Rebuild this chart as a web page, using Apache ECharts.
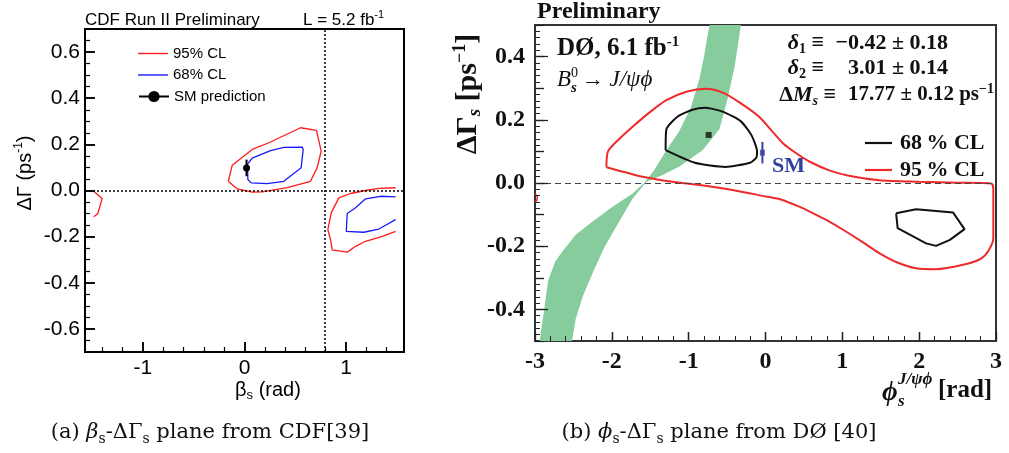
<!DOCTYPE html>
<html><head><meta charset="utf-8">
<script src="https://cdn.jsdelivr.net/npm/echarts@6/dist/echarts.min.js"></script>
<style>html,body{margin:0;padding:0;background:#fff}#c{width:1009px;height:453px}</style>
</head><body><div id="c"></div>
<script>
// ---------- Left panel (CDF) data: beta_s [rad] vs DeltaGamma [ps^-1] ----------
const cdf95Main = [[-0.16,0.040],[-0.121,0.109],[0.076,0.178],[0.240,0.207],[0.552,0.272],[0.709,0.261],[0.755,0.171],[0.716,0.099],[0.650,0.040],[0.420,0.012],[0.174,-0.006],[0.076,-0.007],[-0.072,0.007],[-0.16,0.040]];
const cdf68Main = [[0.03,0.115],[0.076,0.140],[0.256,0.173],[0.387,0.187],[0.568,0.188],[0.578,0.178],[0.558,0.099],[0.387,0.040],[0.223,0.030],[0.066,0.033],[0.033,0.048],[0.03,0.115]];
const cdf95Right = [[1.488,0.012],[1.323,0.009],[1.192,0.0],[1.044,-0.013],[0.929,-0.032],[0.854,-0.097],[0.821,-0.170],[0.847,-0.213],[0.864,-0.257],[1.012,-0.267],[1.094,-0.242],[1.192,-0.220],[1.357,-0.199],[1.488,-0.177]];
const cdf68Right = [[1.488,-0.028],[1.340,-0.025],[1.192,-0.036],[1.094,-0.075],[1.012,-0.100],[1.002,-0.177],[1.018,-0.184],[1.175,-0.181],[1.323,-0.167],[1.488,-0.126]];
const cdf95Left = [[-1.485,-0.003],[-1.402,-0.035],[-1.445,-0.101],[-1.485,-0.114]];
const cdfSM = [0.02, 0.098];
const cdfSMerr = 0.036;
const cdfXRange = [-Math.PI/2, Math.PI/2];
const cdfYRange = [-0.7, 0.7];
const cdfRefX = Math.PI/4;
// tick positions (left panel)
const cdfXMajor = [-1, 0, 1];
const cdfXMinor = [-1.4,-1.2,-0.8,-0.6,-0.4,-0.2,0.2,0.4,0.6,0.8,1.2,1.4];
const cdfYMajor = [-0.6,-0.4,-0.2,0,0.2,0.4,0.6];
const cdfYMinor = [-0.65,-0.55,-0.5,-0.45,-0.35,-0.3,-0.25,-0.15,-0.1,-0.05,0.05,0.1,0.15,0.25,0.3,0.35,0.45,0.5,0.55,0.65];

// ---------- Right panel (D0) data: phi_s [rad] vs DeltaGamma_s [ps^-1] ----------
const bandEdgeA = [[-2.94,-0.50],[-2.88,-0.40],[-2.83,-0.31],[-2.74,-0.25],[-2.64,-0.215],[-2.47,-0.164],[-2.25,-0.122],[-1.99,-0.075],[-1.73,-0.033],[-1.58,0.0],[-1.45,0.04],[-1.30,0.10],[-1.12,0.165],[-0.97,0.24],[-0.86,0.33],[-0.80,0.40],[-0.73,0.50]];
const bandEdgeB = [[-0.32,0.50],[-0.40,0.37],[-0.50,0.26],[-0.60,0.17],[-0.82,0.104],[-1.12,0.052],[-1.34,0.025],[-1.55,0.004],[-1.73,-0.05],[-1.90,-0.12],[-2.10,-0.205],[-2.25,-0.285],[-2.38,-0.36],[-2.47,-0.43],[-2.52,-0.50]];
const d0Red95 = [[-2.07,0.05],[-2.05,0.10],[-1.90,0.14],[-1.73,0.178],[-1.50,0.225],[-1.29,0.262],[-1.03,0.289],[-0.77,0.298],[-0.55,0.285],[-0.34,0.255],[-0.08,0.209],[0.10,0.160],[0.23,0.125],[0.40,0.094],[0.57,0.068],[0.83,0.040],[1.10,0.022],[1.48,0.009],[2.00,0.004],[2.50,0.001],[2.94,-0.002],[2.965,-0.02],[2.965,-0.175],[2.90,-0.215],[2.80,-0.240],[2.57,-0.259],[2.22,-0.273],[1.96,-0.270],[1.70,-0.250],[1.48,-0.222],[1.25,-0.185],[1.01,-0.148],[0.83,-0.122],[0.62,-0.096],[0.44,-0.075],[0.20,-0.052],[0.01,-0.043],[-0.43,-0.022],[-0.86,-0.006],[-1.21,0.004],[-1.60,0.020],[-2.07,0.05]];
const d0Red95Edge = [[-3.0,-0.035],[-2.97,-0.042],[-2.975,-0.055],[-3.0,-0.06]];
const d0Black68A = [[-1.30,0.104],[-1.29,0.17],[-1.15,0.209],[-0.95,0.232],[-0.78,0.238],[-0.55,0.225],[-0.32,0.195],[-0.18,0.15],[-0.11,0.10],[-0.12,0.08],[-0.20,0.064],[-0.52,0.051],[-0.92,0.064],[-1.30,0.104]];
const d0Black68B = [[1.70,-0.096],[1.96,-0.083],[2.44,-0.093],[2.59,-0.146],[2.40,-0.180],[2.22,-0.199],[2.09,-0.191],[1.72,-0.143],[1.70,-0.096]];
const d0Best = [-0.74, 0.152];
const d0SM = [-0.04, 0.096];
const d0SMerr = 0.034;
const d0XRange = [-3, 3];
const d0YRange = [-0.5, 0.5];
// tick positions (right panel)
const d0XMajor = [-2,-1,0,1,2];
const d0XMinor = [-2.8,-2.6,-2.4,-2.2,-1.8,-1.6,-1.4,-1.2,-0.8,-0.6,-0.4,-0.2,0.2,0.4,0.6,0.8,1.2,1.4,1.6,1.8,2.2,2.4,2.6,2.8];
const d0YMajor = [-0.4,-0.2,0,0.2,0.4];
const d0YMid = [-0.3,-0.1,0.1,0.3];
const d0YMinor = [-0.48,-0.46,-0.44,-0.42,-0.38,-0.36,-0.34,-0.32,-0.28,-0.26,-0.24,-0.22,-0.18,-0.16,-0.14,-0.12,-0.08,-0.06,-0.04,-0.02,
                  0.02,0.04,0.06,0.08,0.12,0.14,0.16,0.18,0.22,0.24,0.26,0.28,0.32,0.34,0.36,0.38,0.42,0.44,0.46,0.48];

const SANS = '"Liberation Sans", Arial, Helvetica, sans-serif';
const SERIF = '"Liberation Serif", "Times New Roman", serif';
const CAP = '"DejaVu Serif", serif';
const GREEN = '#86cc9c';
const RED_L = '#ff1a1a', BLUE_L = '#1a1aff';
const RED_R = '#ee2a2a', SMBLUE = '#3340a0';

// grid layout (px)
const G0 = {left:85, top:29, width:319, height:323};
const G1 = {left:535, top:25, width:461, height:316};

const bandPoly = bandEdgeA.concat(bandEdgeB);

function intLabel(v){ return Math.abs(v - Math.round(v)) < 1e-6 ? String(Math.round(v)) : ''; }
function stepLabel(lim){ return function(v){ const k = Math.round(v/0.2); return (Math.abs(v-k*0.2) < 1e-6 && Math.abs(v) < lim) ? v.toFixed(1) : ''; }; }

// inward tick segments as markLine pairs (tick length given in px, converted to axis units)
function tickSegs(values, dir, base, lenPx, unitsPerPx, color, width){
  const d = lenPx * unitsPerPx;
  const ls = {type:'solid', color, width};
  return values.map(v => dir === 'x'
    ? [{coord:[v, base], lineStyle:ls}, {coord:[v, base + d], lineStyle:ls}]
    : [{coord:[base, v], lineStyle:ls}, {coord:[base + d, v], lineStyle:ls}]);
}
const uxL = (cdfXRange[1]-cdfXRange[0]) / G0.width, uyL = (cdfYRange[1]-cdfYRange[0]) / G0.height;
const uxR = (d0XRange[1]-d0XRange[0]) / G1.width, uyR = (d0YRange[1]-d0YRange[0]) / G1.height;
const leftTicks = [].concat(
  tickSegs(cdfXMajor, 'x', cdfYRange[0], 10, uyL, '#000', 1.5),
  tickSegs(cdfXMinor, 'x', cdfYRange[0], 5, uyL, '#000', 1.2),
  tickSegs(cdfYMajor, 'y', cdfXRange[0], 10, uxL, '#000', 1.5),
  tickSegs(cdfYMinor, 'y', cdfXRange[0], 5, uxL, '#000', 1.2));
const rightTicks = [].concat(
  tickSegs(d0XMajor, 'x', d0YRange[0], 9, uyR, '#222', 1.3),
  tickSegs(d0XMinor, 'x', d0YRange[0], 5, uyR, '#222', 1),
  tickSegs(d0YMajor, 'y', d0XRange[0], 13, uxR, '#222', 1.3),
  tickSegs(d0YMid, 'y', d0XRange[0], 9, uxR, '#222', 1.2),
  tickSegs(d0YMinor, 'y', d0XRange[0], 5, uxR, '#222', 1));

const chart = echarts.init(document.getElementById('c'), null, {renderer:'canvas'});

const lineS = (name, data, color, width, xi, yi, smooth) => ({
  type:'line', name, data, xAxisIndex:xi, yAxisIndex:yi, symbol:'none', smooth: smooth || false,
  lineStyle:{color, width}, itemStyle:{color}, z:3, silent:true
});

const option = {
  animation:false,
  grid:[
    Object.assign({show:true, borderColor:'#000', borderWidth:2, backgroundColor:'transparent'}, G0),
    Object.assign({show:true, borderColor:'#333', borderWidth:2, backgroundColor:'transparent'}, G1)
  ],
  xAxis:[
    {type:'value', gridIndex:0, position:'bottom', min:cdfXRange[0], max:cdfXRange[1], splitNumber:3,
     axisLine:{show:true, onZero:false, lineStyle:{color:'#000', width:2}}, splitLine:{show:false},
     axisTick:{show:true, inside:true, length:10, lineStyle:{color:'#000', width:1.5}},
     axisLabel:{formatter:intLabel, color:'#000', fontFamily:SANS, fontSize:21, margin:6}},
    {type:'value', gridIndex:1, position:'bottom', min:d0XRange[0], max:d0XRange[1], interval:1,
     axisLine:{show:true, onZero:false, lineStyle:{color:'#333', width:2}}, splitLine:{show:false},
     axisTick:{show:true, inside:true, length:9, lineStyle:{color:'#222', width:1.3}},
     axisLabel:{color:'#111', fontFamily:SERIF, fontWeight:'bold', fontSize:24, margin:9}}
  ],
  yAxis:[
    {type:'value', gridIndex:0, position:'left', min:cdfYRange[0], max:cdfYRange[1], splitNumber:7,
     axisLine:{show:true, onZero:false, lineStyle:{color:'#000', width:2}}, splitLine:{show:false},
     axisTick:{show:true, inside:true, length:10, lineStyle:{color:'#000', width:1.5}},
     axisLabel:{formatter:stepLabel(0.65), color:'#000', fontFamily:SANS, fontSize:21, margin:5}},
    {type:'value', gridIndex:1, position:'left', min:d0YRange[0], max:d0YRange[1], interval:0.1,
     axisLine:{show:true, onZero:false, lineStyle:{color:'#333', width:2}}, splitLine:{show:false},
     axisTick:{show:true, inside:true, length:9, lineStyle:{color:'#222', width:1.2}},
     axisLabel:{formatter:stepLabel(0.45), color:'#111', fontFamily:SERIF, fontWeight:'bold', fontSize:24, margin:10}}
  ],
  legend:[
    {data:['95% CL','68% CL'], icon:'rect', orient:'vertical', left:133, top:41, itemWidth:30, itemHeight:1.4, itemGap:6.5,
     selectedMode:false, textStyle:{color:'#000', fontFamily:SANS, fontSize:15}},
    {data:['SM prediction'], orient:'vertical', left:133, top:84, itemWidth:30, itemHeight:14,
     selectedMode:false, textStyle:{color:'#000', fontFamily:SANS, fontSize:15}},
    {data:['68\u2009% CL','95\u2009% CL'], icon:'rect', orient:'vertical', left:860, top:127, itemWidth:27, itemHeight:2.2, itemGap:5,
     selectedMode:false, textStyle:{color:'#111', fontFamily:SERIF, fontWeight:'bold', fontSize:22, padding:[0,0,0,3]}}
  ],
  series:[
    // left panel
    Object.assign(lineS('95% CL', cdf95Main, RED_L, 1.3, 0, 0), {
      markLine:{silent:true, symbol:['none','none'], label:{show:false},
        lineStyle:{color:'#000', type:[2,2], width:1.5},
        data:[{yAxis:0},{xAxis:cdfRefX}].concat(leftTicks)}
    }),
    lineS('95% CL', cdf95Right, RED_L, 1.3, 0, 0),
    lineS('95% CL', cdf95Left, RED_L, 1.3, 0, 0),
    lineS('68% CL', cdf68Main, BLUE_L, 1.3, 0, 0),
    lineS('68% CL', cdf68Right, BLUE_L, 1.3, 0, 0),
    {type:'line', xAxisIndex:0, yAxisIndex:0, data:[[cdfSM[0], cdfSM[1]-cdfSMerr],[cdfSM[0], cdfSM[1]+cdfSMerr]],
     symbol:'none', lineStyle:{color:'#000', width:2}, z:4, silent:true},
    {type:'line', name:'SM prediction', xAxisIndex:0, yAxisIndex:0, data:[cdfSM], symbol:'circle', symbolSize:7,
     showSymbol:true, lineStyle:{color:'#000', width:1.3}, itemStyle:{color:'#000'}, z:5, silent:true},
    // right panel
    {type:'custom', xAxisIndex:1, yAxisIndex:1, z:1, silent:true, data:bandPoly,
     renderItem:function(params, api){
       if (params.dataIndex !== 0) return null;
       return {type:'polygon', shape:{points: bandPoly.map(p => api.coord(p))}, style:{fill:GREEN}};
     }},
    Object.assign(lineS('95\u2009% CL', d0Red95, RED_R, 2, 1, 1, 0.25), {
      markLine:{silent:true, symbol:['none','none'], label:{show:false},
        lineStyle:{color:'#444', type:[6,4], width:1},
        data:[{yAxis:0}].concat(rightTicks)}
    }),
    lineS('95\u2009% CL', d0Red95Edge, RED_R, 1.5, 1, 1),
    lineS('68\u2009% CL', d0Black68A, '#111', 2, 1, 1, 0.2),
    lineS('68\u2009% CL', d0Black68B, '#111', 2, 1, 1),
    {type:'scatter', xAxisIndex:1, yAxisIndex:1, data:[d0Best], symbol:'rect', symbolSize:6, itemStyle:{color:'#111'}, z:5, silent:true},
    {type:'line', xAxisIndex:1, yAxisIndex:1, data:[[d0SM[0], d0SM[1]-d0SMerr],[d0SM[0], d0SM[1]+d0SMerr]],
     symbol:'none', lineStyle:{color:SMBLUE, width:2}, z:4, silent:true},
    {type:'scatter', xAxisIndex:1, yAxisIndex:1, data:[d0SM], symbol:'rect', symbolSize:[5,6], itemStyle:{color:SMBLUE}, z:5, silent:true}
  ],
  graphic:[
    {type:'text', x:85, y:20, style:{text:'CDF Run II Preliminary', fontFamily:SANS, fontSize:17, fill:'#000', align:'left', verticalAlign:'middle'}},
    {type:'text', x:303, y:20, style:{text:'{n|L = 5.2 fb}{s|-1}', align:'left', verticalAlign:'middle',
      rich:{n:{fontFamily:SANS, fontSize:17, fill:'#000', lineHeight:22}, s:{fontFamily:SANS, fontSize:11, fill:'#000', verticalAlign:'top', lineHeight:12}}}},
    {type:'text', x:268, y:390, style:{text:'{n|β}{b|s}{n| (rad)}', align:'center', verticalAlign:'middle',
      rich:{n:{fontFamily:SANS, fontSize:20, fill:'#000', lineHeight:24}, b:{fontFamily:SANS, fontSize:13, fill:'#000', verticalAlign:'bottom', lineHeight:14}}}},
    {type:'text', x:25, y:173, rotation:Math.PI/2, style:{text:'{n|ΔΓ (ps}{s|-1}{n|)}', align:'center', verticalAlign:'middle',
      rich:{n:{fontFamily:SANS, fontSize:20, fill:'#000', lineHeight:24}, s:{fontFamily:SANS, fontSize:12, fill:'#000', verticalAlign:'top', lineHeight:13}}}},
    {type:'text', x:210, y:433, style:{text:'{n|(a) }{i|β}{b|s}{n|-ΔΓ}{b|s}{n| plane from CDF[39]}', align:'center', verticalAlign:'middle',
      rich:{n:{fontFamily:CAP, fontSize:21, fill:'#111', lineHeight:26}, i:{fontFamily:CAP, fontStyle:'italic', fontSize:21, fill:'#111', lineHeight:26},
            b:{fontFamily:CAP, fontSize:14, fill:'#111', verticalAlign:'bottom', lineHeight:16}}}},

    {type:'text', x:537, y:12, style:{text:'Preliminary', fontFamily:SERIF, fontWeight:'bold', fontSize:24, fill:'#111', align:'left', verticalAlign:'middle'}},
    {type:'text', x:557, y:49, style:{text:'{n|DØ, 6.1 fb}{s|-1}', align:'left', verticalAlign:'middle',
      rich:{n:{fontFamily:SERIF, fontWeight:'bold', fontSize:25, fill:'#111', lineHeight:28}, s:{fontFamily:SERIF, fontWeight:'bold', fontSize:15, fill:'#111', verticalAlign:'top', lineHeight:16}}}},
    {type:'text', x:557, y:80, style:{text:'B', fontFamily:SERIF, fontStyle:'italic', fontSize:23, fill:'#111', align:'left', verticalAlign:'middle'}},
    {type:'text', x:571, y:73, style:{text:'0', fontFamily:SERIF, fontSize:14, fill:'#111', align:'left', verticalAlign:'middle'}},
    {type:'text', x:571, y:88, style:{text:'s', fontFamily:SERIF, fontStyle:'italic', fontWeight:'bold', fontSize:15, fill:'#111', align:'left', verticalAlign:'middle'}},
    {type:'text', x:582, y:80, style:{text:'{n|→ }{i|J/ψϕ}', align:'left', verticalAlign:'middle',
      rich:{n:{fontFamily:SERIF, fontSize:22, fill:'#111'}, i:{fontFamily:SERIF, fontStyle:'italic', fontSize:23, fill:'#111'}}}},

    {type:'text', x:824, y:43, style:{text:'{i|δ}{b|1}{n| ≡}', align:'right', verticalAlign:'middle',
      rich:{n:{fontFamily:SERIF, fontWeight:'bold', fontSize:22, fill:'#111', lineHeight:26}, i:{fontFamily:SERIF, fontStyle:'italic', fontWeight:'bold', fontSize:22, fill:'#111', lineHeight:26},
            b:{fontFamily:SERIF, fontWeight:'bold', fontSize:14, fill:'#111', verticalAlign:'bottom', lineHeight:16}}}},
    {type:'text', x:948, y:43, style:{text:'−0.42 ± 0.18', fontFamily:SERIF, fontWeight:'bold', fontSize:22, fill:'#111', align:'right', verticalAlign:'middle'}},
    {type:'text', x:824, y:68, style:{text:'{i|δ}{b|2}{n| ≡}', align:'right', verticalAlign:'middle',
      rich:{n:{fontFamily:SERIF, fontWeight:'bold', fontSize:22, fill:'#111', lineHeight:26}, i:{fontFamily:SERIF, fontStyle:'italic', fontWeight:'bold', fontSize:22, fill:'#111', lineHeight:26},
            b:{fontFamily:SERIF, fontWeight:'bold', fontSize:14, fill:'#111', verticalAlign:'bottom', lineHeight:16}}}},
    {type:'text', x:948, y:68, style:{text:'3.01 ± 0.14', fontFamily:SERIF, fontWeight:'bold', fontSize:22, fill:'#111', align:'right', verticalAlign:'middle'}},
    {type:'text', x:836, y:95, style:{text:'{n|Δ}{i|M}{b|s}{n| ≡}', align:'right', verticalAlign:'middle',
      rich:{n:{fontFamily:SERIF, fontWeight:'bold', fontSize:22, fill:'#111', lineHeight:26}, i:{fontFamily:SERIF, fontStyle:'italic', fontWeight:'bold', fontSize:22, fill:'#111', lineHeight:26},
            b:{fontFamily:SERIF, fontStyle:'italic', fontWeight:'bold', fontSize:14, fill:'#111', verticalAlign:'bottom', lineHeight:16}}}},
    {type:'text', x:994, y:95, style:{text:'{n|17.77 ± 0.12 ps}{s|−1}', align:'right', verticalAlign:'middle',
      rich:{n:{fontFamily:SERIF, fontWeight:'bold', fontSize:21, fill:'#111', lineHeight:26}, s:{fontFamily:SERIF, fontWeight:'bold', fontSize:14, fill:'#111', verticalAlign:'top', lineHeight:15}}}},

    {type:'text', x:772, y:166, style:{text:'SM', fontFamily:SERIF, fontWeight:'bold', fontSize:22, fill:SMBLUE, align:'left', verticalAlign:'middle'}},

    {type:'text', x:468, y:94, rotation:Math.PI/2, style:{text:'{n|ΔΓ}{b|s}{n| [ps}{s|−1}{n|]}', align:'center', verticalAlign:'middle',
      rich:{n:{fontFamily:SERIF, fontWeight:'bold', fontSize:30, fill:'#111', lineHeight:34}, b:{fontFamily:SERIF, fontStyle:'italic', fontWeight:'bold', fontSize:19, fill:'#111', verticalAlign:'bottom', lineHeight:20},
            s:{fontFamily:SERIF, fontWeight:'bold', fontSize:18, fill:'#111', verticalAlign:'top', lineHeight:19}}}},
    {type:'text', x:882, y:393, style:{text:'ϕ', fontFamily:SERIF, fontStyle:'italic', fontWeight:'bold', fontSize:27, fill:'#111', align:'left', verticalAlign:'middle'}},
    {type:'text', x:898, y:380, style:{text:'J/ψϕ', fontFamily:SERIF, fontStyle:'italic', fontWeight:'bold', fontSize:17, fill:'#111', align:'left', verticalAlign:'middle'}},
    {type:'text', x:898, y:402, style:{text:'s', fontFamily:SERIF, fontStyle:'italic', fontWeight:'bold', fontSize:17, fill:'#111', align:'left', verticalAlign:'middle'}},
    {type:'text', x:938, y:391, style:{text:'[rad]', fontFamily:SERIF, fontWeight:'bold', fontSize:25, fill:'#111', align:'left', verticalAlign:'middle'}},

    {type:'text', x:719, y:433, style:{text:'{n|(b) }{i|ϕ}{b|s}{n|-ΔΓ}{b|s}{n| plane from DØ [40]}', align:'center', verticalAlign:'middle',
      rich:{n:{fontFamily:CAP, fontSize:21, fill:'#111', lineHeight:26}, i:{fontFamily:CAP, fontStyle:'italic', fontSize:21, fill:'#111', lineHeight:26},
            b:{fontFamily:CAP, fontSize:14, fill:'#111', verticalAlign:'bottom', lineHeight:16}}}}
  ]
};
chart.setOption(option);
</script>
</body></html>
